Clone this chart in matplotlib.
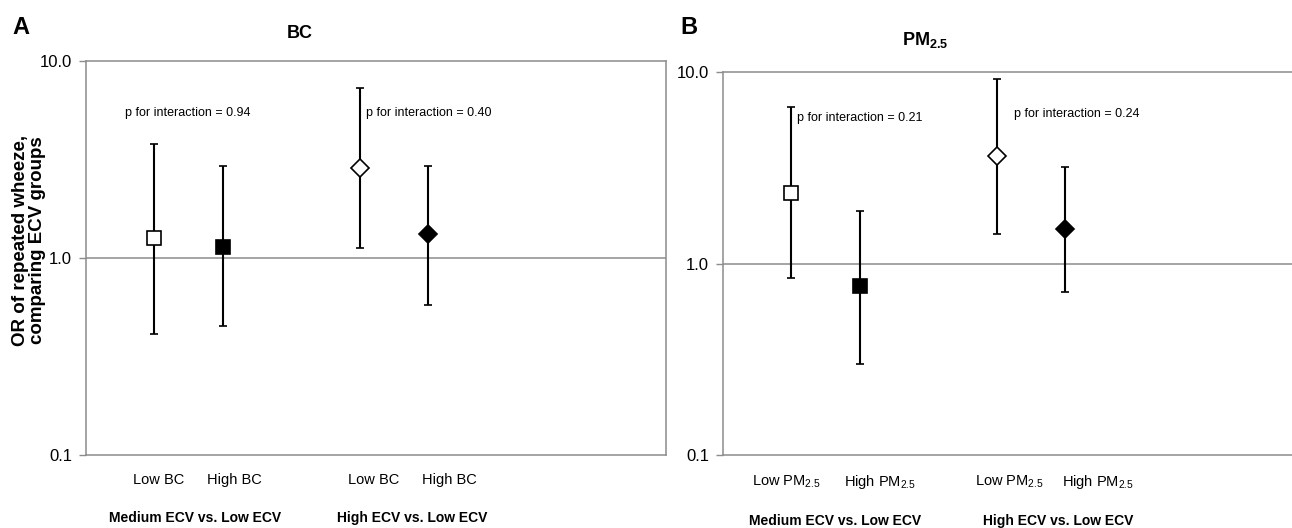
import matplotlib.pyplot as plt
from matplotlib.ticker import NullLocator

plt.rcParams["font.family"] = ["Liberation Sans", "DejaVu Sans"]
plt.rcParams["mathtext.fontset"] = "custom"
plt.rcParams["mathtext.rm"] = "Liberation Sans"
plt.rcParams["mathtext.bf"] = "Liberation Sans:bold"

# Odds ratios (point estimate, lower CI, upper CI)
bc_or = [1.26, 1.14, 2.86, 1.32]
bc_lo = [0.41, 0.45, 1.12, 0.58]
bc_hi = [3.79, 2.93, 7.30, 2.93]

pm_or = [2.34, 0.76, 3.65, 1.52]
pm_lo = [0.835, 0.30, 1.42, 0.71]
pm_hi = [6.57, 1.89, 9.20, 3.20]

bc_labels = ["Low BC", "High BC", "Low BC", "High BC"]
pm_labels = ["Low PM$_{2.5}$", "High PM$_{2.5}$", "Low PM$_{2.5}$", "High PM$_{2.5}$"]
group_labels = ["Medium ECV vs. Low ECV", "High ECV vs. Low ECV"]
bc_pvals = ["0.94", "0.40"]
pm_pvals = ["0.21", "0.24"]

# stile / layout
X = [1, 2, 4, 5]
MARKERS = ["s", "s", "D", "D"]
MSIZE = [9.5, 9.5, 9, 9]
FACES = ["white", "black", "white", "black"]
GRAY = "#8c8c8c"
W, H = 1292, 528


def fx(px):
    return px / W


def fy(py):
    return 1 - py / H


def pannello(ax, vals, lo, hi, labels, label_pos):
    for i in range(len(vals)):
        ax.errorbar(
            X[i], vals[i], yerr=[[vals[i] - lo[i]], [hi[i] - vals[i]]],
            fmt=MARKERS[i], ms=MSIZE[i], mfc=FACES[i], mec="black", mew=1.2,
            ecolor="black", elinewidth=1.5, capsize=3.2, capthick=1.5, zorder=3,
        )
    ax.set_yscale("log")
    ax.set_ylim(0.1, 10)
    ax.set_xlim(0, 8.47)
    ax.set_yticks([0.1, 1, 10], ["0.1", "1.0", "10.0"])
    ax.yaxis.set_minor_locator(NullLocator())
    ax.axhline(1, color=GRAY, lw=1.1, zorder=1)
    ax.set_xticks(label_pos, labels)
    ax.tick_params(axis="x", length=0, pad=13, labelsize=10.5)
    ax.tick_params(axis="y", length=5, color=GRAY, width=1, pad=5, labelsize=12)
    for s in ax.spines.values():
        s.set_color(GRAY)
        s.set_linewidth(1.1)


fig = plt.figure(figsize=(W / 100, H / 100), dpi=100)

ax_a = fig.add_axes([fx(86), fy(455), fx(580), (455 - 61) / H])
pannello(ax_a, bc_or, bc_lo, bc_hi, bc_labels, [1.06, 2.17, 4.2, 5.31])
ax_a.text(0.176, 0.868, "p for interaction = " + bc_pvals[0], transform=ax_a.transAxes,
          ha="center", va="center", fontsize=9)
ax_a.text(0.591, 0.868, "p for interaction = " + bc_pvals[1], transform=ax_a.transAxes,
          ha="center", va="center", fontsize=9)

# panel B esce a destra dalla figura (tagliato come nell'originale)
ax_b = fig.add_axes([fx(723), fy(455), fx(580), (455 - 72) / H])
pannello(ax_b, pm_or, pm_lo, pm_hi, pm_labels, [0.93, 2.3, 4.18, 5.48])
ax_b.text(0.236, 0.88, "p for interaction = " + pm_pvals[0], transform=ax_b.transAxes,
          ha="center", va="center", fontsize=9)
ax_b.text(0.610, 0.89, "p for interaction = " + pm_pvals[1], transform=ax_b.transAxes,
          ha="center", va="center", fontsize=9)

# etichette gruppi
bold = dict(ha="center", va="center", fontsize=10, fontweight="bold")
fig.text(fx(195), fy(518), group_labels[0], **bold)
fig.text(fx(412), fy(518), group_labels[1], **bold)
fig.text(fx(835), fy(521), group_labels[0], **bold)
fig.text(fx(1058), fy(521), group_labels[1], **bold)

# titoli e lettere
fig.text(fx(300), fy(34), "BC", ha="center", va="center", fontsize=13, fontweight="bold")
fig.text(fx(925), fy(40), r"PM$_\mathbf{2.5}$", ha="center", va="center", fontsize=13,
         fontweight="bold")
fig.text(fx(21), fy(28), "A", ha="center", va="center", fontsize=17, fontweight="bold")
fig.text(fx(689), fy(27), "B", ha="center", va="center", fontsize=17, fontweight="bold")

fig.text(fx(29), fy(240), "OR of repeated wheeze,\ncomparing ECV groups", rotation=90,
         ha="center", va="center", fontsize=13.5, fontweight="bold", linespacing=0.95)

fig.savefig("out.png", dpi=100)
